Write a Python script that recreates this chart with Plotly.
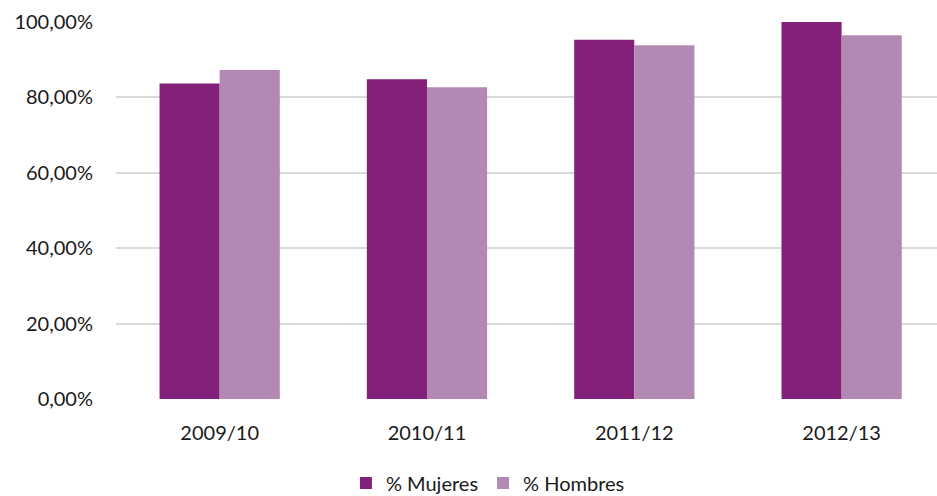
import plotly.graph_objects as go

# Academic years
years = ["2009/10", "2010/11", "2011/12", "2012/13"]

# Percentages by sex
mujeres = [83.7, 84.8, 95.3, 100.0]
hombres = [87.3, 82.7, 93.8, 96.5]

y_ticks = [0, 20, 40, 60, 80, 100]
y_tick_labels = ["0,00%", "20,00%", "40,00%", "60,00%", "80,00%", "100,00%"]

color_mujeres = "#83207A"
color_hombres = "#B388B2"
font_family = "Lato, 'Open Sans', sans-serif"

fig = go.Figure()
fig.add_trace(go.Bar(name="% Mujeres", x=years, y=mujeres,
                     marker=dict(color=color_mujeres, line=dict(width=0))))
fig.add_trace(go.Bar(name="% Hombres", x=years, y=hombres,
                     marker=dict(color=color_hombres, line=dict(width=0))))

fig.update_layout(
    width=937, height=496,
    margin=dict(l=116, r=0, t=22, b=97, autoexpand=False),
    paper_bgcolor="white", plot_bgcolor="white",
    barmode="group", bargap=0.42, bargroupgap=0,
    font=dict(family=font_family, size=20, color="#1a1a1a"),
    showlegend=True,
    legend=dict(orientation="h", x=0.453, xanchor="center", y=-0.223, yanchor="middle",
                font=dict(size=20), itemwidth=30, traceorder="normal"),
    xaxis=dict(range=[-0.5, 3.46], showgrid=False, zeroline=False, showline=False,
               automargin=False, ticks="", ticklabelstandoff=20, tickfont=dict(size=20)),
    yaxis=dict(range=[0, 100], tickvals=y_ticks, ticktext=y_tick_labels,
               showgrid=True, gridcolor="#D9D9D9", gridwidth=1.5, zeroline=False,
               automargin=False, showline=False, ticks="", ticklabelstandoff=22,
               tickfont=dict(size=20)),
)

fig.write_html("out.html")
